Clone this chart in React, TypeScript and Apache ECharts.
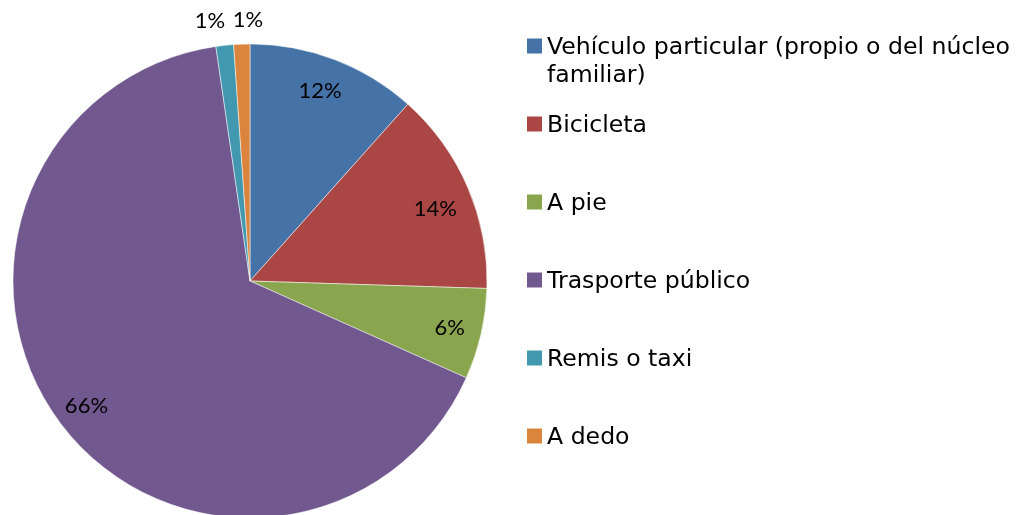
import React, { useEffect, useRef } from "react";
import * as echarts from "echarts";

// Categories (legend order = slice order, clockwise from 12 o'clock)
const categories: string[] = [
  "Vehículo particular (propio o del núcleo familiar)",
  "Bicicleta",
  "A pie",
  "Trasporte público",
  "Remis o taxi",
  "A dedo",
];

// Legend text as wrapped in the reference
const legendText: string[] = [
  "Vehículo particular (propio o del núcleo\nfamiliar)",
  "Bicicleta",
  "A pie",
  "Trasporte público",
  "Remis o taxi",
  "A dedo",
];

// Shares (%)
const shares: number[] = [11.6, 13.9, 6.2, 66.0, 1.2, 1.1];

const colors: string[] = ["#4572A7", "#AA4643", "#89A54E", "#71588F", "#4198AF", "#DB843D"];

// Slices this small get their label outside the pie
const SMALL_SHARE = 3;

export default function App() {
  const ref = useRef<HTMLDivElement>(null);

  useEffect(() => {
    if (!ref.current) return;
    const chart = echarts.init(ref.current, undefined, { renderer: "svg" });
    const data = categories.map((name, i) => ({ name, value: shares[i] }));
    const pct = (p: any) => Math.round(p.percent) + "%";
    const base = {
      type: "pie" as const,
      center: [250, 281],
      startAngle: 90,
      clockwise: true,
      data,
    };
    chart.setOption({
      animation: false,
      color: colors,
      legend: {
        orient: "vertical",
        left: 527,
        top: 4,
        padding: 0,
        itemWidth: 15,
        itemHeight: 15,
        itemGap: -6,
        icon: "rect",
        selectedMode: false,
        itemStyle: { borderWidth: 0 },
        textStyle: {
          fontFamily: "DejaVu Sans",
          fontSize: 23.6,
          color: "#000",
          lineHeight: 84,
        },
        data: categories.map((name, i) =>
          legendText[i].includes("\n")
            ? { name, textStyle: { lineHeight: 28 } }
            : { name }
        ),
        // a multi-line entry gets a blank lead line so its first line sits on the marker
        formatter: (name: string) => {
          const t = legendText[categories.indexOf(name)];
          const extra = t.split("\n").length - 1;
          return "\n".repeat(extra) + t;
        },
      },
      series: [
        {
          ...base,
          radius: 237,
          label: { show: false },
          labelLine: { show: false },
          itemStyle: { borderColor: "rgba(255,255,255,0.5)", borderWidth: 1 },
          emphasis: { disabled: true },
        },
        {
          ...base,
          radius: [167, 237],
          silent: true,
          itemStyle: { color: "transparent", borderWidth: 0 },
          emphasis: { disabled: true },
          labelLine: { show: false },
          label: {
            show: true,
            position: "inside",
            formatter: (p: any) => (p.value >= SMALL_SHARE ? pct(p) : ""),
            fontFamily: "Lato",
            fontSize: 22,
            color: "#000",
          },
          labelLayout: (p: any) => ({
            dx: p.dataIndex === 0 ? -3 : p.dataIndex === 1 ? -3 : 0,
            dy: p.dataIndex === 1 ? 7 : 0,
          }),
        },
        {
          ...base,
          radius: [250, 270],
          silent: true,
          itemStyle: { color: "transparent", borderWidth: 0 },
          emphasis: { disabled: true },
          labelLine: { show: false },
          label: {
            show: true,
            position: "inside",
            formatter: (p: any) => (p.value < SMALL_SHARE ? pct(p) : ""),
            fontFamily: "Lato",
            fontSize: 22,
            color: "#000",
          },
          labelLayout: (p: any) => ({
            dx: p.dataIndex === 4 ? -12 : p.dataIndex === 5 ? 7 : 0,
          }),
        },
      ],
    });
    return () => chart.dispose();
  }, []);

  return (
    <div
      ref={ref}
      style={{ position: "fixed", left: 0, top: 0, width: 1018, height: 515 }}
    />
  );
}
